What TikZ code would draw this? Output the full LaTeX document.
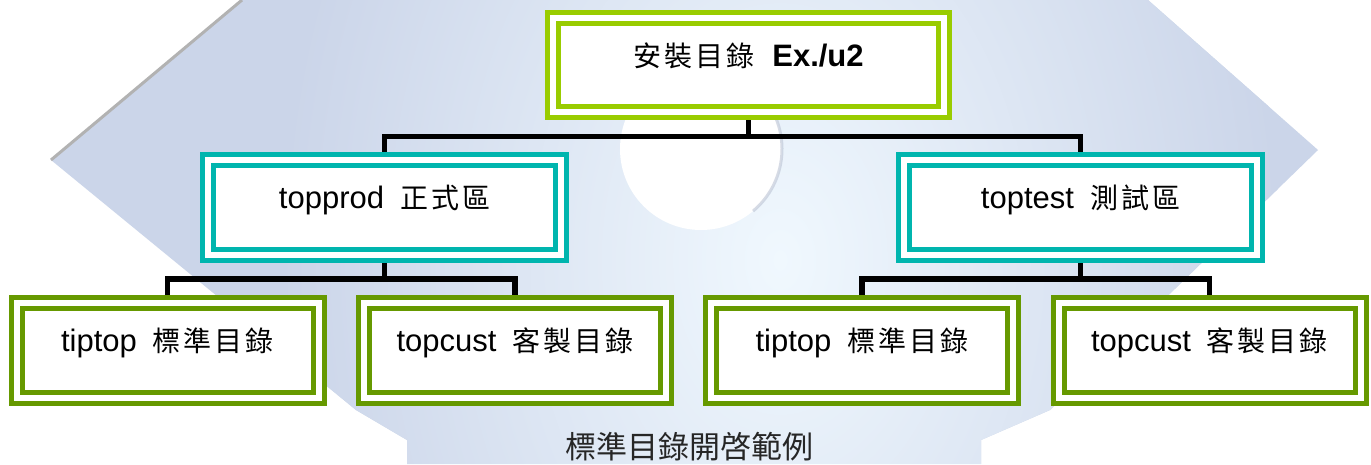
\documentclass[tikz,border=0pt]{standalone}
\usepackage{fontspec}
\setmainfont{Liberation Sans}
\newfontfamily\cjk{Noto Sans CJK TC}
\definecolor{bgblue}{HTML}{CBD5E9}
\definecolor{glow}{HTML}{F0F8FE}
\definecolor{limeg}{HTML}{99CC00}
\definecolor{tealg}{HTML}{00B5AE}
\definecolor{oliveg}{HTML}{669900}
\newcommand{\cj}[1]{{\cjk\fontsize{28pt}{30pt}\selectfont #1}}
\newcommand{\gk}{\kern3pt}
\tikzset{
  box/.style={line width=5pt, double=white, double distance=6pt, fill=white,
    outer sep=8pt, inner sep=0pt, minimum height=95pt},
  topbox/.style={box, draw=limeg, minimum width=391pt, minimum height=94pt},
  midbox/.style={box, draw=tealg, minimum width=353pt},
  lowbox/.style={box, draw=oliveg, minimum width=302pt},
  lbl/.style={anchor=base, inner sep=0pt, font=\fontsize{31pt}{33pt}\selectfont, text=black},
  conn/.style={line width=5.5pt, black},
}
\begin{document}
\begin{tikzpicture}[x=1pt, y=-1pt]
\useasboundingbox (0,0) rectangle (1371,464);
% background watermark
\fill[white] (0,0) rectangle (1371,464);
\begin{scope}
  \clip (242,0) -- (51,160) -- (356,410) -- (407,440) -- (407,464) -- (981,464)
        -- (981,440) -- (1050,410) -- (1318,150) -- (1148,0) -- cycle;
  \fill[bgblue] (0,0) rectangle (1371,464);
  \shade[inner color=glow, outer color=bgblue] (780,260) ellipse (500 and 720);
\end{scope}
\draw[black!30, line width=3pt] (242,0) -- (51,160);
\fill[white] (701,149) circle (81);
\draw[bgblue!80!gray, line width=3pt, opacity=0.6] (701,149) ++(50:81) arc[start angle=50, end angle=-70, radius=81];
% boxes
\node[topbox] (top) at (748.5,65) {};
\node[midbox] (ml) at (384.5,207.5) {};
\node[midbox] (mr) at (1080.5,207.5) {};
\node[lowbox] (b1) at (167.5,350.5) {};
\node[lowbox] (b2) at (515,350.5) {};
\node[lowbox] (b3) at (862,350.5) {};
\node[lowbox] (b4) at (1209.5,350.5) {};
% connectors
\draw[conn] (top.south) -- ++(0,16.5) coordinate (bus0);
\draw[conn] (bus0) -| (ml.north);
\draw[conn] (bus0) -| (mr.north);
\draw[conn] (ml.south) -- ++(0,16) coordinate (bus1);
\draw[conn] (bus1) -| (b1.north);
\draw[conn] (bus1) -| (b2.north);
\draw[conn] (mr.south) -- ++(0,16) coordinate (bus2);
\draw[conn] (bus2) -| (b3.north);
\draw[conn] (bus2) -| (b4.north);
% labels
\node[lbl] (top-t) at ([yshift=-1pt]top.center) {\cj{安\gk{}裝\gk{}目\gk{}錄}\hspace{18pt}\textbf{Ex./u2}};
\node[lbl] (ml-t) at ([yshift=-1pt]ml.center) {topprod\hspace{16pt}\cj{正\gk{}式\gk{}區}};
\node[lbl] (mr-t) at ([yshift=-1pt]mr.center) {toptest\hspace{16pt}\cj{測\gk{}試\gk{}區}};
\node[lbl] (b1-t) at ([yshift=-1pt]b1.center) {tiptop\hspace{16pt}\cj{標\gk{}準\gk{}目\gk{}錄}};
\node[lbl] (b2-t) at ([yshift=-1pt]b2.center) {topcust\hspace{16pt}\cj{客\gk{}製\gk{}目\gk{}錄}};
\node[lbl] (b3-t) at ([yshift=-1pt]b3.center) {tiptop\hspace{16pt}\cj{標\gk{}準\gk{}目\gk{}錄}};
\node[lbl] (b4-t) at ([yshift=-1pt]b4.center) {topcust\hspace{16pt}\cj{客\gk{}製\gk{}目\gk{}錄}};
\node[inner sep=0pt, text=black!85, font=\cjk\fontsize{31pt}{33pt}\selectfont] (cap) at (689,447) {標準目錄開啓範例};
\end{tikzpicture}
\end{document}
